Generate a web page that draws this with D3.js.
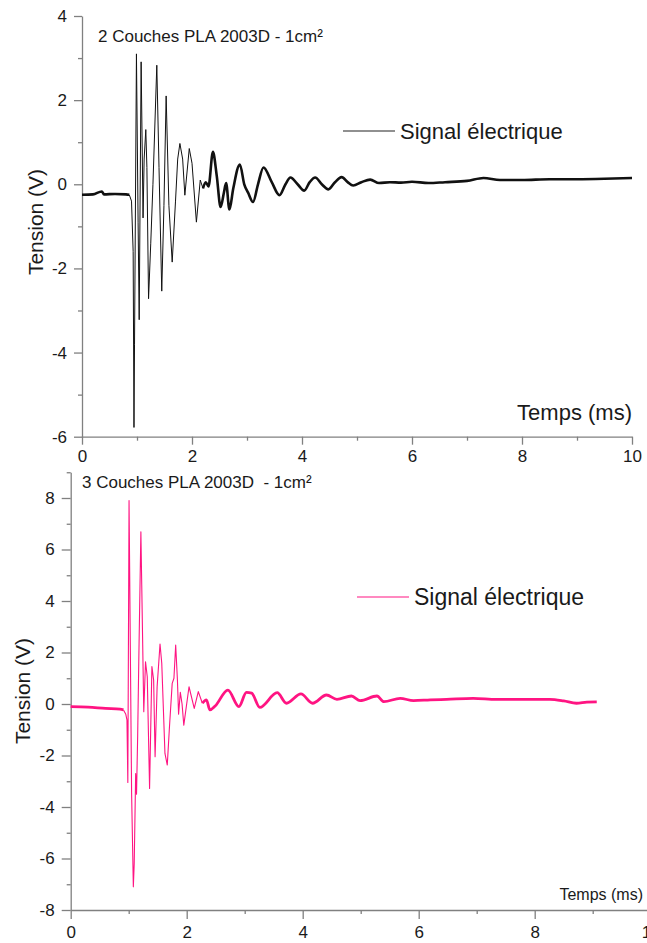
<!DOCTYPE html>
<html>
<head>
<meta charset="utf-8">
<script src="https://cdn.jsdelivr.net/npm/d3@7"></script>
<style>
  html, body { margin: 0; padding: 0; background: #fff; }
  svg { display: block; font-family: "Liberation Sans", Arial, sans-serif; }
  .axis path, .axis line { stroke: #808080; stroke-width: 1.3; }
  .axis text { fill: #1a1a1a; font-size: 17px; font-family: "Liberation Sans", Arial, sans-serif; }
</style>
</head>
<body>
<script>
// ---------------- DATA ----------------
const title2 = "2 Couches PLA 2003D - 1cm²";
const title3 = "3 Couches PLA 2003D  - 1cm²";
const legendLabel = "Signal électrique";
const xLabel = "Temps (ms)";
const yLabel = "Tension (V)";

const xTicks = [0, 2, 4, 6, 8, 10];
const xMinor = [1, 3, 5, 7, 9];
const yTicks2 = [-6, -4, -2, 0, 2, 4];
const yMinor2 = [-5, -3, -1, 1, 3];
const yTicks3 = [-8, -6, -4, -2, 0, 2, 4, 6, 8];
const yMinor3 = [-7, -5, -3, -1, 1, 3, 5, 7, 9];

// [time (ms), tension (V)] — 2 couches
const signal2 = [
  [0, -0.25], [0.2, -0.24], [0.36, -0.17], [0.4, -0.24], [0.6, -0.23], [0.8, -0.24],
  [0.86, -0.25], [0.9, -0.4], [0.93, -1.6], [0.945, -5.78], [0.955, -3.8], [0.99, 3.1],
  [1.02, -0.9], [1.04, -3.22], [1.075, 2.91], [1.11, -0.8], [1.13, 0.6], [1.16, 1.3],
  [1.18, 0.4], [1.21, -2.72], [1.25, -1.4], [1.29, 0.0], [1.36, 2.83], [1.40, 0.4],
  [1.45, -2.54], [1.49, -0.5], [1.53, 2.1], [1.58, -0.5], [1.64, -1.85], [1.70, -0.4],
  [1.74, 0.6], [1.78, 0.97], [1.83, 0.6], [1.87, -0.26], [1.95, 0.85], [2.0, 0.5],
  [2.08, -0.9], [2.15, 0.1], [2.2, -0.1], [2.25, 0.05], [2.3, -0.05], [2.38, 0.77],
  [2.45, 0.2], [2.52, -0.54], [2.58, -0.2], [2.62, 0.03], [2.68, -0.6], [2.75, -0.1],
  [2.87, 0.47], [2.95, 0.0], [3.02, -0.2], [3.11, -0.42], [3.2, 0.0], [3.3, 0.4],
  [3.45, 0.05], [3.59, -0.26], [3.7, 0.0], [3.79, 0.16], [3.92, 0.0], [4.04, -0.15],
  [4.14, 0.05], [4.24, 0.16], [4.36, 0.0], [4.48, -0.12], [4.6, 0.05], [4.72, 0.17],
  [4.83, 0.05], [4.93, -0.03], [5.08, 0.05], [5.24, 0.11], [5.4, 0.03], [5.6, 0.05],
  [5.8, 0.04], [6.0, 0.06], [6.3, 0.03], [6.6, 0.05], [7.0, 0.08], [7.3, 0.15],
  [7.6, 0.1], [8.0, 0.1], [8.5, 0.12], [9.0, 0.12], [9.5, 0.13], [10.0, 0.15]
];

// [time (ms), tension (V)] — 3 couches
const signal3 = [
  [0, -0.1], [0.3, -0.12], [0.6, -0.17], [0.85, -0.2], [0.91, -0.23], [0.95, -0.4],
  [0.97, -0.62], [0.985, -3.05], [1.006, 7.9], [1.05, -3.46], [1.08, -7.1], [1.095, -6.2],
  [1.12, -2.7], [1.135, -3.5], [1.155, -1.2], [1.175, 1.84], [1.21, 6.69], [1.225, 4.6],
  [1.26, -0.3], [1.29, 1.64], [1.32, 1.06], [1.36, -3.28], [1.40, 1.45], [1.43, 0.93],
  [1.455, -2.05], [1.49, 0.67], [1.54, 2.33], [1.57, 1.58], [1.625, -1.92], [1.665, -2.37],
  [1.70, -1.0], [1.75, 0.8], [1.78, 1.0], [1.81, 2.29], [1.84, 0.93], [1.86, -0.4],
  [1.89, 0.45], [1.92, 0.0], [1.95, -0.82], [2.04, 0.67], [2.13, -0.17], [2.2, 0.48],
  [2.27, 0.03], [2.34, 0.16], [2.40, -0.23], [2.49, -0.08], [2.71, 0.54], [2.90, -0.1],
  [3.03, 0.45], [3.12, 0.42], [3.26, -0.13], [3.56, 0.44], [3.72, 0.03], [3.97, 0.39],
  [4.17, 0.03], [4.41, 0.35], [4.59, 0.18], [4.84, 0.31], [4.99, 0.13], [5.28, 0.31],
  [5.40, 0.09], [5.68, 0.22], [5.91, 0.13], [6.2, 0.16], [6.48, 0.18], [6.94, 0.22],
  [7.34, 0.18], [7.8, 0.18], [8.26, 0.18], [8.5, 0.12], [8.72, 0.03], [8.9, 0.07], [9.07, 0.08]
];

// ---------------- DRAW ----------------
const W = 647, H = 943;
const svg = d3.select("body").append("svg").attr("width", W).attr("height", H);

function panel(cfg) {
  const x = d3.scaleLinear().domain([0, 10]).range(cfg.xRange);
  const y = d3.scaleLinear().domain(cfg.yDomain).range(cfg.yRange);
  const g = svg.append("g");
  const fmt = d => String(d);

  // minor ticks
  g.append("g").attr("class", "axis").attr("transform", `translate(${cfg.xRange[0]},0)`)
    .call(d3.axisLeft(y).tickValues(cfg.yMinor).tickSize(4).tickFormat(""))
    .call(s => s.select(".domain").remove());
  g.append("g").attr("class", "axis").attr("transform", `translate(0,${cfg.yRange[0]})`)
    .call(d3.axisBottom(x).tickValues(xMinor).tickSize(4).tickFormat(""))
    .call(s => s.select(".domain").remove());

  // major axes
  g.append("g").attr("class", "axis").attr("transform", `translate(${cfg.xRange[0]},0)`)
    .call(d3.axisLeft(y).tickValues(cfg.yTicks).tickSize(cfg.tick).tickSizeOuter(0).tickPadding(cfg.yPad).tickFormat(fmt));
  g.append("g").attr("class", "axis").attr("transform", `translate(0,${cfg.yRange[0]})`)
    .call(d3.axisBottom(x).tickValues(xTicks).tickSize(cfg.tick).tickSizeOuter(0).tickPadding(cfg.xPad).tickFormat(fmt));

  const sharp = d3.line().x(d => x(d[0])).y(d => y(d[1]));
  const smooth = d3.line().curve(d3.curveMonotoneX).x(d => x(d[0])).y(d => y(d[1]));

  // burst: thin sharp line
  const burst = cfg.data.filter(d => d[0] >= cfg.burst[0] && d[0] <= cfg.burst[1]);
  g.append("path").datum(burst).attr("d", sharp)
    .attr("fill", "none").attr("stroke", cfg.color).attr("stroke-width", cfg.thin)
    .attr("stroke-linejoin", "round");
  // noisy segments drawn thicker (noise band)
  const pre = cfg.data.filter(d => d[0] <= cfg.burst[0]);
  const post = cfg.data.filter(d => d[0] >= cfg.burst[1]);
  [pre, post].forEach(seg => {
    g.append("path").datum(seg).attr("d", smooth)
      .attr("fill", "none").attr("stroke", cfg.color).attr("stroke-width", cfg.thick)
      .attr("stroke-linejoin", "round");
  });

  // title
  g.append("text").attr("x", cfg.titlePos[0]).attr("y", cfg.titlePos[1])
    .attr("font-size", 17).attr("fill", "#1a1a1a").style("white-space", "pre")
    .text(cfg.title);

  // legend
  g.append("line").attr("x1", cfg.legend[0]).attr("x2", cfg.legend[0] + 52)
    .attr("y1", cfg.legend[1]).attr("y2", cfg.legend[1])
    .attr("stroke", cfg.legendLine).attr("stroke-width", 1.2);
  g.append("text").attr("x", cfg.legend[0] + 57).attr("y", cfg.legend[1] + cfg.legendDy)
    .attr("font-size", cfg.legendSize).attr("fill", "#1a1a1a").text(legendLabel);

  // axis titles
  g.append("text").attr("transform", `translate(${cfg.yLab[0]},${cfg.yLab[1]}) rotate(-90)`)
    .attr("text-anchor", "middle").attr("font-size", 21).attr("fill", "#1a1a1a").text(yLabel);
  g.append("text").attr("x", cfg.xLab[0]).attr("y", cfg.xLab[1])
    .attr("text-anchor", "end").attr("font-size", cfg.xLabSize).attr("fill", "#1a1a1a").text(xLabel);
}

panel({
  data: signal2, color: "#111", thin: 1, thick: 2.6, burst: [0.86, 2.2],
  xRange: [82, 632], yDomain: [-6, 4], yRange: [436.7, 16],
  yTicks: yTicks2, yMinor: yMinor2, tick: 8, yPad: 7, xPad: 5,
  title: title2, titlePos: [98, 42],
  legend: [343, 131], legendDy: 8, legendSize: 22, legendLine: "#222",
  yLab: [43, 222], xLab: [632, 420], xLabSize: 22
});

panel({
  data: signal3, color: "#ff1482", thin: 1.1, thick: 2.8, burst: [0.91, 2.27],
  xRange: [70.7, 650.7], yDomain: [-8, 9], yRange: [910, 472.25],
  yTicks: yTicks3, yMinor: yMinor3, tick: 9, yPad: 7, xPad: 7,
  title: title3, titlePos: [82, 488],
  legend: [357, 597], legendDy: 8, legendSize: 23, legendLine: "#ff1482",
  yLab: [30, 691], xLab: [643, 900], xLabSize: 16
});
</script>
</body>
</html>
